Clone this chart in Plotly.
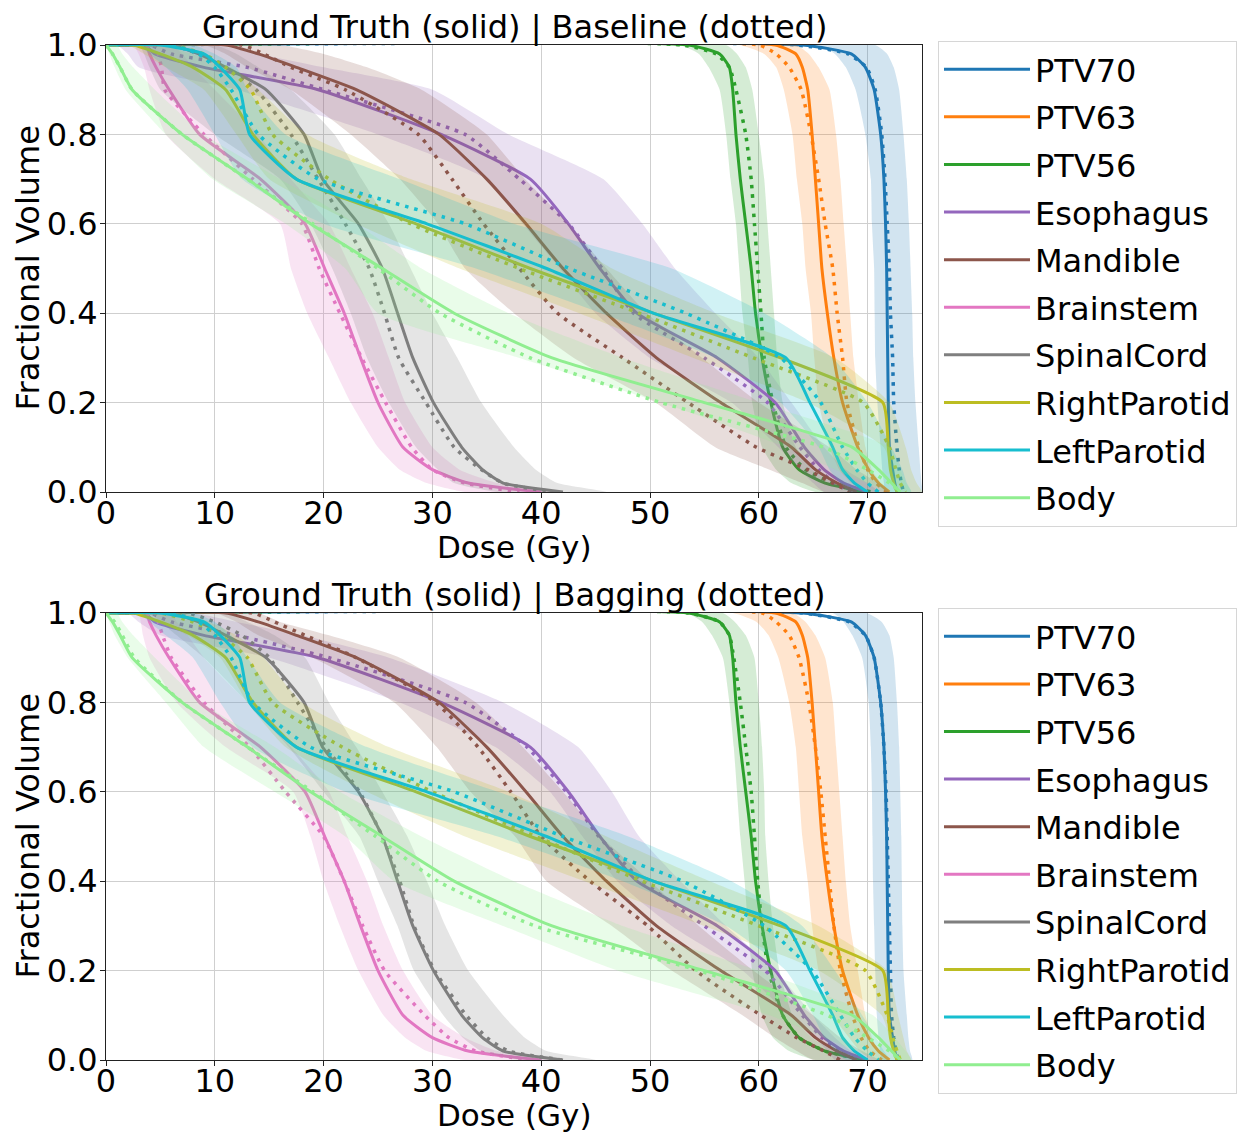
import plotly.graph_objects as go
from plotly.subplots import make_subplots

# ---------------- data ----------------
STRUCTURES = ["PTV70", "PTV63", "PTV56", "Esophagus", "Mandible", "Brainstem",
              "SpinalCord", "RightParotid", "LeftParotid", "Body"]

# fractional-volume levels at which doses were read
V_GRID = [1.0, 1.0, 0.98, 0.95, 0.9, 0.8, 0.7, 0.6, 0.5, 0.4, 0.3, 0.2, 0.1, 0.05, 0.02, 0.0]

X_TICKS = [0, 10, 20, 30, 40, 50, 60, 70]
Y_TICKS = [0.0, 0.2, 0.4, 0.6, 0.8, 1.0]

# ground truth dose (Gy) at each V_GRID level
GT_DOSE = {
    "PTV70":        [0, 64, 68.5, 69.8, 70.6, 71.2, 71.5, 71.65, 71.75, 71.8, 71.85, 71.9, 72.0, 72.3, 72.5, 72.7],
    "PTV63":        [0, 61.5, 63.4, 64.0, 64.5, 64.9, 65.2, 65.5, 65.8, 66.3, 66.9, 67.7, 69.1, 70.1, 71.0, 72.0],
    "PTV56":        [0, 53.5, 56.4, 57.3, 57.6, 57.9, 58.3, 58.8, 59.3, 59.7, 60.3, 61.1, 62.2, 63.7, 66.1, 69.8],
    "Esophagus":    [0, 3.5, 4.5, 9.0, 19.5, 30.8, 39.0, 42.5, 45.4, 48.8, 56.2, 61.5, 64.2, 66.0, 67.8, 70.0],
    "Mandible":     [0, 11, 14, 17.5, 23, 30.6, 35, 38.6, 42, 46, 50.6, 56.5, 63, 65.2, 67.2, 69],
    "Brainstem":    [0, 3.7, 4.0, 4.6, 5.8, 8.6, 14.2, 18.3, 20.1, 21.9, 23.4, 25.0, 27.3, 30.0, 33.3, 40],
    "SpinalCord":   [0, 6, 8.5, 11, 14.7, 18.2, 19.9, 23.2, 25.4, 26.8, 28.2, 30.1, 32.7, 34.6, 36.5, 42],
    "RightParotid": [0, 2.5, 5, 8, 11, 13.5, 17.5, 28.5, 39, 50.3, 62, 71.4, 71.9, 72.1, 72.4, 72.7],
    "LeftParotid":  [0, 5, 9, 10.5, 12.3, 13.2, 17.5, 29.5, 40.5, 50.3, 62.5, 64.7, 66.8, 67.7, 68.8, 70],
    "Body":         [0, 0, 0.6, 1.3, 2.4, 7, 13, 18.8, 25.4, 32, 41, 55, 68.6, 71, 72.2, 73],
}

# Baseline prediction (mean) and band edges
BASE_PRED = {
    "PTV70":        [0, 63.5, 68.2, 69.9, 70.7, 71.3, 71.6, 71.8, 72.0, 72.1, 72.3, 72.4, 72.7, 72.9, 73.1, 73.3],
    "PTV63":        [0, 60, 61.6, 62.8, 63.9, 64.8, 65.5, 66.1, 66.8, 67.2, 67.7, 68.1, 69.2, 70.0, 70.8, 71.8],
    "PTV56":        [0, 53, 56.1, 57.3, 57.9, 58.8, 59.3, 59.6, 59.9, 60.2, 60.5, 61.3, 62.5, 64.3, 66.8, 70.4],
    "Esophagus":    [0, 4, 6, 13, 20, 33, 38, 42.5, 45.6, 48.5, 55, 60.8, 63.8, 65.5, 67, 68.5],
    "Mandible":     [0, 12.5, 14.5, 17, 22, 28.7, 31.8, 34.7, 38, 41.5, 47.5, 53.5, 59.8, 64.5, 66.8, 68.5],
    "Brainstem":    [0, 4.5, 4.8, 5.1, 5.4, 9, 13.5, 18, 19.6, 21.5, 23.5, 25.7, 28.1, 30, 33, 38],
    "SpinalCord":   [0, 6, 8.5, 11, 13.8, 17, 19.5, 22, 24.2, 25.6, 26.9, 29.4, 32, 34.5, 36.5, 41],
    "RightParotid": [0, 6, 9, 11, 13.3, 15.3, 20.5, 28, 38, 49, 59.5, 69.6, 72, 72.6, 73.0, 73.5],
    "LeftParotid":  [0, 6, 8.5, 10, 11.5, 14, 19.5, 33, 42.6, 53.3, 62, 65.7, 67.7, 69, 70, 71],
    "Body":         [0, 0, 0.6, 1.3, 2.4, 7, 13, 19, 25, 30.7, 39, 51, 66, 70, 72, 73],
}
BASE_LO = {
    "PTV70":        [0, 65.5, 67, 68, 68.9, 69.8, 70.3, 70.4, 70.6, 70.65, 70.7, 70.9, 71.2, 71.35, 71.5, 71.6],
    "PTV63":        [0, 58.2, 60.5, 61.6, 62.3, 63.1, 63.5, 64, 64.3, 64.8, 65.1, 65.5, 66.5, 67.4, 68.5, 69.8],
    "PTV56":        [0, 52.7, 54.5, 55.4, 56.4, 57, 57.4, 57.9, 58.2, 58.5, 59, 59.4, 60.3, 61.6, 63, 65.2],
    "Esophagus":    [0, 1, 2, 3, 12, 25, 35, 38.3, 41.7, 45, 50, 57.5, 61.8, 63.8, 65, 66],
    "Mandible":     [0, 9, 11, 13, 17, 22.5, 27, 30.5, 33, 37.5, 43, 50.5, 56, 61, 64, 66],
    "Brainstem":    [0, 2.5, 3, 3.5, 4, 5.5, 10, 16, 17, 18.5, 20.5, 22.5, 25, 27, 29.5, 33],
    "SpinalCord":   [0, 3, 3.5, 4, 5, 10, 16, 18.8, 20.8, 22.5, 24, 26, 28.5, 30.5, 32, 36],
    "RightParotid": [0, 2, 3.5, 5.5, 9, 12, 15, 23, 32.5, 43.5, 54, 64.5, 71.5, 72.2, 72.5, 73],
    "LeftParotid":  [0, 3, 4, 5.5, 7.5, 10, 12.5, 20, 34, 45.5, 56, 62, 65.5, 66.5, 67.5, 68.3],
    "Body":         [0, 0, 0.3, 0.8, 1.8, 5.5, 9.8, 16.5, 22, 25, 38, 51, 62.5, 67, 70, 72],
}
BASE_HI = {
    "PTV70":        [0, 70.7, 71.8, 72.4, 72.9, 73.3, 73.6, 73.8, 73.95, 74.1, 74.2, 74.4, 74.7, 74.85, 74.95, 75.0],
    "PTV63":        [0, 63.4, 64.6, 65.5, 66.5, 67.1, 67.5, 67.8, 68.1, 68.4, 68.7, 69.2, 69.8, 70.4, 71.2, 72],
    "PTV56":        [0, 57, 58, 58.8, 59.4, 60, 60.5, 60.8, 61.1, 61.4, 61.7, 62.2, 63.4, 64.9, 67, 69.8],
    "Esophagus":    [0, 10, 14, 20, 30, 37, 45.7, 49.3, 52.3, 56, 60, 63, 66, 68, 70, 71],
    "Mandible":     [0, 16, 20, 24, 29, 35, 38.5, 42.5, 46, 49.7, 54.8, 60, 66.5, 69, 71, 72],
    "Brainstem":    [0, 6, 7, 8, 10, 14, 17, 20.5, 22.5, 24.5, 26, 27.5, 30, 32.5, 36, 42],
    "SpinalCord":   [0, 10, 12, 14, 17, 21, 23.5, 26, 28, 30, 32.3, 34.5, 37.5, 39.5, 41.5, 46],
    "RightParotid": [0, 5, 8, 11.5, 14, 18.5, 28, 40, 46.5, 56, 67, 72, 73.5, 74, 74.5, 75],
    "LeftParotid":  [0, 8, 10, 12, 13, 16.5, 27, 37.5, 52, 60.5, 66.8, 70, 72.2, 73.2, 73.6, 74],
    "Body":         [0, 1, 1.5, 2.5, 4.5, 9, 16, 23, 29, 37, 47.5, 60, 72, 73, 73.5, 74],
}

# Bagging prediction (mean) and band edges
BAG_PRED = {
    "PTV70":        [0, 64, 68.3, 69.8, 70.6, 71.2, 71.5, 71.7, 71.8, 71.9, 72.0, 72.1, 72.2, 72.4, 72.6, 72.8],
    "PTV63":        [0, 60.3, 61.6, 62.8, 63.7, 64.6, 65.2, 65.7, 66.1, 66.5, 66.9, 67.5, 68.6, 69.4, 70.2, 71.3],
    "PTV56":        [0, 53.5, 56.4, 57.3, 57.7, 58.3, 58.8, 59.3, 59.6, 59.9, 60.3, 60.9, 62.2, 63.7, 66.1, 69.8],
    "Esophagus":    [0, 4, 6, 12, 20.5, 33, 38.7, 42.3, 45.3, 49.3, 55, 60.6, 64, 65.8, 67.5, 69],
    "Mandible":     [0, 13.5, 15.5, 18.3, 23, 30.3, 34.2, 37.2, 40, 44.5, 49.8, 54.2, 60.2, 63.5, 66, 67.5],
    "Brainstem":    [0, 4.5, 4.8, 5.2, 6.0, 9, 13.2, 16.5, 20, 21.9, 23.6, 25.6, 29.3, 31.5, 34, 39],
    "SpinalCord":   [0, 7.5, 10, 12.5, 15, 17.6, 20.2, 23.3, 25.4, 27, 28.3, 30.2, 33.1, 35, 37, 42],
    "RightParotid": [0, 5, 8, 10.5, 13, 15.3, 21.7, 30, 39.5, 49.3, 60, 69.8, 71.8, 72.3, 72.7, 73],
    "LeftParotid":  [0, 6, 8.5, 10, 11.5, 13.5, 18.8, 32, 42, 53, 60.5, 64.9, 67.5, 68.8, 70, 71],
    "Body":         [0, 0, 0.8, 1.5, 2.6, 7, 13, 19, 24.8, 30.5, 39.4, 54.5, 66.3, 70, 72, 73],
}
BAG_LO = {
    "PTV70":        [0, 66.8, 67.8, 68.6, 69.5, 70.1, 70.3, 70.4, 70.45, 70.5, 70.6, 70.7, 70.85, 71.0, 71.15, 71.3],
    "PTV63":        [0, 57.6, 59.8, 60.9, 61.8, 62.8, 63.4, 63.7, 64, 64.5, 64.9, 65.5, 66.8, 68.3, 69.3, 70.4],
    "PTV56":        [0, 53.3, 54.8, 55.7, 56.7, 57.3, 57.7, 58, 58.3, 58.7, 59, 59.4, 60.3, 61.3, 62.8, 65.2],
    "Esophagus":    [0, 2, 3, 5, 15, 27, 35.8, 40.8, 43.8, 47, 52, 58.5, 62.8, 65.2, 66.3, 67],
    "Mandible":     [0, 10, 12, 14, 19, 26.5, 30.4, 33.5, 37.6, 40.5, 46.5, 52, 58.5, 61.5, 63.5, 65],
    "Brainstem":    [0, 3, 3.2, 3.4, 4, 6.5, 11, 17.2, 18.8, 20, 21.5, 23.2, 25.5, 27.5, 29.5, 33],
    "SpinalCord":   [0, 4, 5, 6.5, 9, 13, 16.8, 20, 23.3, 25, 26.8, 28.3, 31, 32.8, 34.5, 38],
    "RightParotid": [0, 3, 5, 7.5, 10.5, 13, 16.5, 24, 33, 44, 55, 65.5, 71.3, 72, 72.3, 72.6],
    "LeftParotid":  [0, 3, 4, 5.5, 8, 10.5, 13.5, 22, 36, 47.5, 57, 62.5, 65, 66, 67, 68],
    "Body":         [0, 0, 0.3, 0.8, 2, 5.5, 9, 15.5, 22, 26.5, 36.5, 47, 61, 66, 69, 71],
}
BAG_HI = {
    "PTV70":        [0, 69.9, 71.3, 72.0, 72.4, 72.7, 72.9, 73.0, 73.1, 73.15, 73.2, 73.3, 73.6, 73.75, 73.9, 74.1],
    "PTV63":        [0, 63.1, 64.3, 65.2, 66.1, 66.8, 67.1, 67.4, 67.7, 68, 68.4, 69.1, 69.8, 70.4, 71, 71.7],
    "PTV56":        [0, 56.7, 57.8, 58.8, 59.6, 60, 60.3, 60.5, 60.6, 60.9, 61.3, 61.9, 63.1, 64.9, 67, 70.4],
    "Esophagus":    [0, 8, 12, 18, 26, 36.5, 43.4, 46.5, 49, 52.8, 57, 61.5, 65, 67, 68.5, 70],
    "Mandible":     [0, 14, 16, 20.5, 27, 34, 38.3, 42, 45.5, 50, 54.5, 59.5, 65, 67.5, 69.5, 71],
    "Brainstem":    [0, 6, 6.5, 7.5, 9, 13, 17, 20.5, 22.2, 24, 25.5, 27.3, 30, 33, 36, 42],
    "SpinalCord":   [0, 11, 13, 15.5, 18.3, 20.5, 23, 25.4, 27.7, 29.5, 31.2, 33.3, 36.5, 38.5, 40.5, 45],
    "RightParotid": [0, 7, 9.5, 12, 14.5, 18, 26, 37, 46, 55.5, 65.5, 71.8, 72.8, 73.3, 73.6, 74],
    "LeftParotid":  [0, 8, 10, 11.5, 13, 16, 24, 36, 48, 57.5, 64, 67, 69.5, 70.8, 71.5, 72],
    "Body":         [0, 1, 1.5, 2.5, 4.5, 8.8, 15.5, 21.5, 29, 37.5, 47.5, 60, 70.5, 72.5, 73.5, 74],
}

PANEL_TITLES = ["Ground Truth (solid) | Baseline (dotted)",
                "Ground Truth (solid) | Bagging (dotted)"]

# ---------------- style ----------------
COLORS = {
    "PTV70": "#1f77b4", "PTV63": "#ff7f0e", "PTV56": "#2ca02c", "Esophagus": "#9467bd",
    "Mandible": "#8c564b", "Brainstem": "#e377c2", "SpinalCord": "#7f7f7f",
    "RightParotid": "#bcbd22", "LeftParotid": "#17becf", "Body": "#90ee90",
}


def rgba(hex_color, a):
    h = hex_color.lstrip("#")
    r, g, b = int(h[0:2], 16), int(h[2:4], 16), int(h[4:6], 16)
    return f"rgba({r},{g},{b},{a})"


FONT = "DejaVu Sans, sans-serif"

fig = make_subplots(rows=2, cols=1, vertical_spacing=0.1192)

panels = [(BASE_PRED, BASE_LO, BASE_HI, "legend"), (BAG_PRED, BAG_LO, BAG_HI, "legend2")]
SHAPE = dict(shape="spline", smoothing=0.5)

for row, (pred, lo, hi, leg) in enumerate(panels, start=1):
    for s in STRUCTURES:
        c = COLORS[s]
        grp = f"{leg}_{s}"
        fig.add_trace(go.Scatter(x=GT_DOSE[s], y=V_GRID, mode="lines", name=s,
                                 line=dict(color=c, width=3, **SHAPE),
                                 legend=leg, legendgroup=grp, showlegend=True,
                                 hoverinfo="skip"), row=row, col=1)
        fig.add_trace(go.Scatter(x=pred[s], y=V_GRID, mode="lines", name=s,
                                 line=dict(color=c, width=3.5, dash="3.5px,6px", **SHAPE),
                                 legend=leg, legendgroup=grp, showlegend=False,
                                 hoverinfo="skip"), row=row, col=1)
        fig.add_trace(go.Scatter(x=lo[s] + hi[s][::-1], y=V_GRID + V_GRID[::-1],
                                 mode="lines", fill="toself", fillcolor=rgba(c, 0.2),
                                 line=dict(width=0, color=rgba(c, 0), **SHAPE),
                                 legend=leg, legendgroup=grp, showlegend=False,
                                 hoverinfo="skip"), row=row, col=1)

axis_common = dict(showline=True, mirror=True, linecolor="#222", linewidth=1,
                   ticks="outside", ticklen=5, tickcolor="#222", showgrid=True,
                   gridcolor="#cfcfcf", gridwidth=1, zeroline=False,
                   tickfont=dict(family=FONT, size=32, color="black"))

for r in (1, 2):
    fig.update_xaxes(range=[0, 75], tickvals=X_TICKS, ticklabelstandoff=-12,
                     row=r, col=1, **axis_common)
    fig.update_yaxes(range=[0, 1], tickvals=Y_TICKS, tickformat=".1f", ticklabelstandoff=-4,
                     row=r, col=1, **axis_common)

annotations = []
for i, (xd, yd) in enumerate([("x domain", "y domain"), ("x2 domain", "y2 domain")]):
    annotations.append(dict(text=PANEL_TITLES[i], xref=xd, yref=yd, x=0.5, y=1,
                            xanchor="center", yanchor="bottom", yshift=-3, showarrow=False,
                            font=dict(family=FONT, size=32, color="black")))
    annotations.append(dict(text="Dose (Gy)", xref=xd, yref=yd, x=0.5, y=0,
                            xanchor="center", yanchor="top", yshift=-35, showarrow=False,
                            font=dict(family=FONT, size=31, color="black")))
    annotations.append(dict(text="Fractional Volume", xref=xd, yref=yd, x=0, y=0.5,
                            xanchor="center", yanchor="middle", xshift=-78, textangle=-90,
                            showarrow=False, font=dict(family=FONT, size=32, color="black")))

legend_common = dict(font=dict(family=FONT, size=32, color="black"), bgcolor="white",
                     bordercolor="#d6d6d6", borderwidth=1, tracegroupgap=3,
                     xanchor="left", yanchor="top", itemwidth=86, traceorder="grouped")

# page body adds an 8px offset; the figure is sized so the plot lands where the reference has it
fig.update_layout(
    width=1242, height=1125,
    margin=dict(l=98, r=328, t=37, b=73),
    paper_bgcolor="white", plot_bgcolor="white",
    showlegend=True,
    legend=dict(x=1.0196, y=1.004, **legend_common),
    legend2=dict(x=1.0196, y=0.4453, **legend_common),
    annotations=annotations,
)

fig.write_html("out.html")
